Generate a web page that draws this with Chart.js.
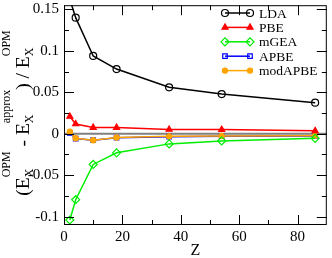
<!DOCTYPE html>
<html>
<head>
<meta charset="utf-8">
<script src="https://cdn.jsdelivr.net/npm/chart.js@4.4.1/dist/chart.umd.min.js"></script>
<style>
  html, body { margin: 0; padding: 0; background: #fff; }
  canvas { display: block; }
</style>
</head>
<body>
<canvas id="chart" width="332" height="258"></canvas>
<script>
// atomic numbers Z
const zValues = [2, 4, 10, 18, 36, 54, 86];
// relative error of the exchange energy
const lda = [0.162, 0.140, 0.0938, 0.078, 0.056, 0.0478, 0.0375];
const pbe = [0.0208, 0.0118, 0.0075, 0.0075, 0.0052, 0.005, 0.0035];
const mgea = [-0.104, -0.0795, -0.037, -0.023, -0.0122, -0.0086, -0.0055];
const apbe = [0.0012, -0.0058, -0.0077, -0.0047, -0.0035, -0.003, -0.0027];
const modapbe = [0.0024, -0.0055, -0.0078, -0.0045, -0.0031, -0.0027, -0.0023];

const xTicks = [0, 20, 40, 60, 80];
const xMinor = [10, 30, 50, 70, 90];
const yTicks = [-0.1, -0.05, 0, 0.05, 0.1, 0.15];
const yMinor = [-0.075, -0.025, 0.025, 0.075, 0.125];

const serif = "'Liberation Serif', 'DejaVu Serif', serif";

function toPoints(values) {
  return zValues.map((z, i) => ({ x: z, y: values[i] }));
}

function series(label, values, color, style, radius, filled, order) {
  return {
    label: label,
    data: toPoints(values),
    borderColor: color,
    backgroundColor: filled ? color : "rgba(0,0,0,0)",
    pointStyle: style,
    pointRadius: radius,
    pointBorderWidth: 1.2,
    pointBackgroundColor: filled ? color : "rgba(0,0,0,0)",
    pointBorderColor: color,
    borderWidth: 1.5,
    showLine: true,
    tension: 0,
    order: order,
  };
}

const datasets = [
  series("LDA", lda, "#000000", "circle", 3.5, false, 0),
  series("PBE", pbe, "#ff0000", "triangle", 3.5, true, 1),
  series("mGEA", mgea, "#00ee00", "rectRot", 4, false, 2),
  series("APBE", apbe, "#0000ff", "rect", 3.2, false, 4),
  series("modAPBE", modapbe, "#ffa500", "circle", 2.6, true, 3),
];

function marker(ctx, ds, x, y) {
  if (Chart.helpers && Chart.helpers.drawPoint) {
    ctx.save();
    ctx.strokeStyle = ds.pointBorderColor;
    ctx.fillStyle = ds.pointBackgroundColor;
    ctx.lineWidth = ds.pointBorderWidth;
    Chart.helpers.drawPoint(ctx, { pointStyle: ds.pointStyle, radius: ds.pointRadius, rotation: 0, borderWidth: ds.pointBorderWidth }, x, y);
    ctx.restore();
  }
}

// zero line, frame, inward ticks, legend and axis titles
const decorations = {
  id: "decorations",
  beforeDatasetsDraw(chart) {
    const { ctx, chartArea, scales } = chart;
    const y0 = scales.y.getPixelForValue(0);
    ctx.save();
    ctx.strokeStyle = "#808080";
    ctx.lineWidth = 2;
    ctx.beginPath();
    ctx.moveTo(chartArea.left, y0);
    ctx.lineTo(chartArea.right, y0);
    ctx.stroke();
    ctx.restore();
  },
  afterDraw(chart) {
    const { ctx, chartArea, scales } = chart;
    const { left, right, top, bottom } = chartArea;
    ctx.save();
    ctx.strokeStyle = "#000";
    ctx.lineWidth = 1;
    ctx.strokeRect(left + 0.5, top + 0.5, right - left - 1, bottom - top - 1);

    ctx.beginPath();
    const tick = (vals, len) => {
      vals.forEach((v) => {
        const px = Math.round(scales.x.getPixelForValue(v)) + 0.5;
        if (px < left || px > right) return;
        ctx.moveTo(px, bottom); ctx.lineTo(px, bottom - len);
        ctx.moveTo(px, top); ctx.lineTo(px, top + len);
      });
    };
    const ytick = (vals, len) => {
      vals.forEach((v) => {
        const py = Math.round(scales.y.getPixelForValue(v)) + 0.5;
        if (py < top || py > bottom) return;
        ctx.moveTo(left, py); ctx.lineTo(left + len, py);
        ctx.moveTo(right, py); ctx.lineTo(right - len, py);
      });
    };
    tick(xTicks, 10); tick(xMinor, 5);
    ytick(yTicks, 10); ytick(yMinor, 5);
    ctx.stroke();

    // legend
    ctx.font = "13.5px " + serif;
    ctx.textBaseline = "middle";
    ctx.fillStyle = "#000";
    datasets.forEach((ds, i) => {
      const y = 13 + i * 14.4;
      ctx.strokeStyle = ds.borderColor;
      ctx.lineWidth = 1.5;
      ctx.beginPath();
      ctx.moveTo(225, y); ctx.lineTo(250, y);
      ctx.stroke();
      marker(ctx, ds, 225, y);
      marker(ctx, ds, 250, y);
      ctx.fillStyle = "#000";
      ctx.fillText(ds.label, 259, y + 1);
    });

    // x title
    ctx.font = "16px " + serif;
    ctx.textAlign = "center";
    ctx.textBaseline = "middle";
    ctx.fillText("Z", (left + right) / 2, 251);

    // y title with sub- and superscripts
    const big = "19.5px " + serif;
    const small = "12px " + serif;
    const parts = [
      { t: "(E" }, { sub: "X", sup: "OPM" },
      { t: " - E" }, { sub: "X", sup: "approx" },
      { t: ") / E" }, { sub: "X", sup: "OPM" },
    ];
    const widthOf = (p) => {
      if (p.t) { ctx.font = big; return ctx.measureText(p.t).width; }
      ctx.font = small;
      return Math.max(ctx.measureText(p.sub).width, ctx.measureText(p.sup).width);
    };
    const total = parts.reduce((s, p) => s + widthOf(p), 0);
    ctx.translate(29, 113);
    ctx.rotate(-Math.PI / 2);
    ctx.textAlign = "left";
    ctx.textBaseline = "alphabetic";
    let u = -total / 2;
    parts.forEach((p) => {
      const w = widthOf(p);
      if (p.t) {
        ctx.font = big;
        ctx.fillText(p.t, u, 0);
      } else {
        ctx.font = small;
        ctx.fillText(p.sub, u, 4);
        ctx.fillText(p.sup, u, -19);
      }
      u += w;
    });
    ctx.restore();
  },
};

new Chart(document.getElementById("chart"), {
  type: "scatter",
  data: { datasets: datasets },
  options: {
    responsive: false,
    devicePixelRatio: 1,
    animation: false,
    layout: { padding: { top: 2, right: 2, left: 0, bottom: 0 } },
    plugins: { legend: { display: false }, tooltip: { enabled: false } },
    scales: {
      x: {
        type: "linear",
        min: 0,
        max: 90,
        grid: { display: false, drawTicks: false },
        border: { display: false },
        afterBuildTicks: (s) => { s.ticks = xTicks.map((v) => ({ value: v })); },
        afterFit: (s) => { s.height = 33; s.paddingLeft = 0; s.paddingRight = 0; },
        ticks: {
          padding: 3,
          color: "#000",
          font: { family: serif, size: 15 },
          callback: (v) => String(v),
        },
      },
      y: {
        type: "linear",
        min: -0.11,
        max: 0.155,
        grid: { display: false, drawTicks: false },
        border: { display: false },
        afterBuildTicks: (s) => { s.ticks = yTicks.map((v) => ({ value: v })); },
        afterFit: (s) => { s.width = 64; s.paddingTop = 0; s.paddingBottom = 0; },
        ticks: {
          padding: 5,
          color: "#000",
          font: { family: serif, size: 15 },
          callback: (v) => String(v),
        },
      },
    },
  },
  plugins: [decorations],
});
</script>
</body>
</html>
